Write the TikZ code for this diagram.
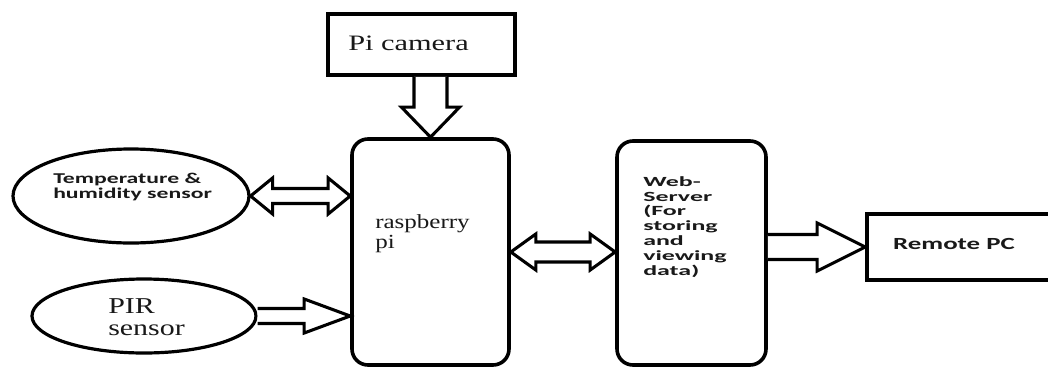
\documentclass[tikz,border=0pt]{standalone}
\usepackage{fontspec}
\usetikzlibrary{calc,shapes.geometric}
\newfontfamily\camfont[FakeStretch=1.38]{Liberation Serif}
\newfontfamily\rpfont[FakeStretch=1.25]{Liberation Serif}
\newfontfamily\pirfont[FakeStretch=1.32]{Liberation Serif}
\newfontfamily\tempfont[FakeStretch=1.58]{Carlito}
\newfontfamily\webfont[FakeStretch=1.85]{Carlito}
\newfontfamily\remfont[FakeStretch=1.58]{Carlito}
% double horizontal block arrow: from, to, shaft half, head half, head length
\newcommand\hdarrow[5]{\draw[blk] (#1) -- ($(#1)+(#5,-#4)$) -- ($(#1)+(#5,-#3)$) -- ($(#2)+(-#5,-#3)$) -- ($(#2)+(-#5,-#4)$) -- (#2) -- ($(#2)+(-#5,#4)$) -- ($(#2)+(-#5,#3)$) -- ($(#1)+(#5,#3)$) -- ($(#1)+(#5,#4)$) -- cycle;}
% single horizontal block arrow
\newcommand\harrow[5]{\draw[blk] ($(#1)+(0,-#3)$) -- ($(#2)+(-#5,-#3)$) -- ($(#2)+(-#5,-#4)$) -- (#2) -- ($(#2)+(-#5,#4)$) -- ($(#2)+(-#5,#3)$) -- ($(#1)+(0,#3)$);}
% single vertical (downward) block arrow
\newcommand\varrow[5]{\draw[blk] ($(#1)+(-#3,0)$) -- ($(#2)+(-#3,-#5)$) -- ($(#2)+(-#4,-#5)$) -- (#2) -- ($(#2)+(#4,-#5)$) -- ($(#2)+(#3,-#5)$) -- ($(#1)+(#3,0)$);}
\begin{document}
\begin{tikzpicture}[x=0.75pt,y=-0.75pt,
  box/.style={draw=black,line width=2.7pt,inner sep=0pt,fill=white},
  rbox/.style={box,rounded corners=12pt},
  ell/.style={draw=black,line width=2.4pt,ellipse,inner sep=0pt,fill=white},
  blk/.style={draw=black,line width=2.3pt,line join=miter,fill=white},
  txt/.style={inner sep=0pt,align=left,text=black!90}]
\fill[white] (0,0) rectangle (1048,368);
\useasboundingbox (0,0) rectangle (1048,368);

\node[box,minimum width=140.25pt,minimum height=45.75pt] (cam) at (421.5,44.5) {};
\node[rbox,minimum width=117.75pt,minimum height=169.5pt] (rp) at (430.5,252) {};
\node[rbox,minimum width=111.75pt,minimum height=168pt] (web) at (691.5,253) {};
\node[box,minimum width=138.75pt,minimum height=49.5pt] (remote) at (959.5,247) {};
\node[ell,minimum width=177pt,minimum height=70.5pt] (temp) at (131,196) {};
\node[ell,minimum width=168pt,minimum height=55.5pt] (pir) at (144,316) {};

\node[txt,anchor=base west,font=\camfont\fontsize{16.5pt}{16.5pt}\selectfont] (camtxt) at (348,50) {Pi camera};
\node[txt,anchor=base west,font=\rpfont\fontsize{15pt}{15pt}\selectfont] (rptxt) at (375,248) {raspberry\\pi};
\node[txt,anchor=base west,font=\pirfont\fontsize{17pt}{16.5pt}\selectfont] (pirtxt) at (108,335) {PIR\\sensor};
\node[txt,anchor=base west,font=\tempfont\bfseries\fontsize{11.25pt}{11.25pt}\selectfont] (temptxt) at (53,198) {Temperature \&\\humidity sensor};
\node[txt,anchor=base west,font=\webfont\bfseries\fontsize{10.5pt}{11.1pt}\selectfont] (webtxt) at (643,275) {Web-\\Server\\(For\\storing\\and\\viewing\\data)};
\node[txt,anchor=base,font=\remfont\bfseries\fontsize{12.75pt}{12.75pt}\selectfont] (remtxt) at (954,249) {Remote PC};

\coordinate (c1) at (rp.north |- cam.south);
\varrow{c1}{rp.north}{16.5}{29}{30}
\coordinate (t2) at (rp.west |- temp.east);
\hdarrow{temp.east}{t2}{7.5}{18}{22}
\coordinate (p2) at (rp.west |- pir.east);
\harrow{pir.east}{p2}{7.5}{17}{46}
\coordinate (w2) at (web.west |- rp.east);
\hdarrow{rp.east}{w2}{10}{18}{25}
\coordinate (r1) at (web.east |- remote.west);
\harrow{r1}{remote.west}{12.5}{24}{48}
\end{tikzpicture}
\end{document}
